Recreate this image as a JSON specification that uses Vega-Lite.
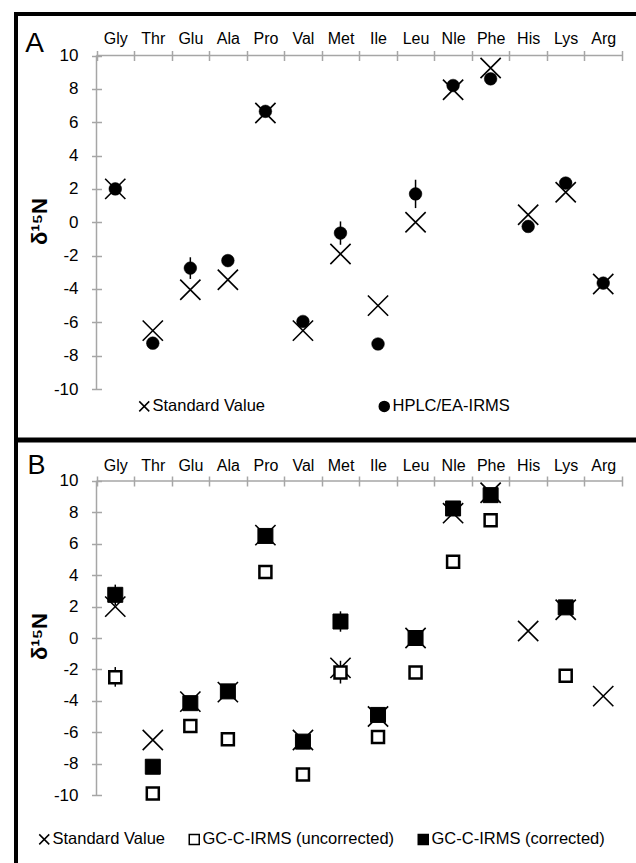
{
  "$schema": "https://vega.github.io/schema/vega-lite/v6.json",
  "width": 636,
  "height": 863,
  "autosize": {"type": "fit", "contains": "padding"},
  "padding": {"left": 13, "top": 14, "right": -10, "bottom": -10},
  "background": "white",
  "config": {
    "font": "Liberation Sans",
    "view": {"stroke": "black", "strokeWidth": 4}
  },
  "datasets": {
    "pts": [
      {"panel": "A", "aa": "Gly", "series": "Standard Value", "value": 2.0},
      {"panel": "A", "aa": "Thr", "series": "Standard Value", "value": -6.5},
      {"panel": "A", "aa": "Glu", "series": "Standard Value", "value": -4.05},
      {"panel": "A", "aa": "Ala", "series": "Standard Value", "value": -3.45},
      {"panel": "A", "aa": "Pro", "series": "Standard Value", "value": 6.55},
      {"panel": "A", "aa": "Val", "series": "Standard Value", "value": -6.5},
      {"panel": "A", "aa": "Met", "series": "Standard Value", "value": -1.9},
      {"panel": "A", "aa": "Ile", "series": "Standard Value", "value": -5.0},
      {"panel": "A", "aa": "Leu", "series": "Standard Value", "value": 0.0},
      {"panel": "A", "aa": "Nle", "series": "Standard Value", "value": 7.95},
      {"panel": "A", "aa": "Phe", "series": "Standard Value", "value": 9.25},
      {"panel": "A", "aa": "His", "series": "Standard Value", "value": 0.45},
      {"panel": "A", "aa": "Lys", "series": "Standard Value", "value": 1.8},
      {"panel": "A", "aa": "Arg", "series": "Standard Value", "value": -3.7},
      {"panel": "A", "aa": "Gly", "series": "HPLC/EA-IRMS", "value": 2.0},
      {"panel": "A", "aa": "Thr", "series": "HPLC/EA-IRMS", "value": -7.25},
      {"panel": "A", "aa": "Glu", "series": "HPLC/EA-IRMS", "value": -2.75, "lo": -3.4, "hi": -2.1},
      {"panel": "A", "aa": "Ala", "series": "HPLC/EA-IRMS", "value": -2.3},
      {"panel": "A", "aa": "Pro", "series": "HPLC/EA-IRMS", "value": 6.65},
      {"panel": "A", "aa": "Val", "series": "HPLC/EA-IRMS", "value": -5.95},
      {"panel": "A", "aa": "Met", "series": "HPLC/EA-IRMS", "value": -0.65, "lo": -1.35, "hi": 0.05},
      {"panel": "A", "aa": "Ile", "series": "HPLC/EA-IRMS", "value": -7.3},
      {"panel": "A", "aa": "Leu", "series": "HPLC/EA-IRMS", "value": 1.7, "lo": 0.85, "hi": 2.55},
      {"panel": "A", "aa": "Nle", "series": "HPLC/EA-IRMS", "value": 8.2},
      {"panel": "A", "aa": "Phe", "series": "HPLC/EA-IRMS", "value": 8.6},
      {"panel": "A", "aa": "His", "series": "HPLC/EA-IRMS", "value": -0.25},
      {"panel": "A", "aa": "Lys", "series": "HPLC/EA-IRMS", "value": 2.35},
      {"panel": "A", "aa": "Arg", "series": "HPLC/EA-IRMS", "value": -3.65},
      {"panel": "B", "aa": "Gly", "series": "Standard Value", "value": 2.0},
      {"panel": "B", "aa": "Thr", "series": "Standard Value", "value": -6.5},
      {"panel": "B", "aa": "Glu", "series": "Standard Value", "value": -4.05},
      {"panel": "B", "aa": "Ala", "series": "Standard Value", "value": -3.45},
      {"panel": "B", "aa": "Pro", "series": "Standard Value", "value": 6.55},
      {"panel": "B", "aa": "Val", "series": "Standard Value", "value": -6.5},
      {"panel": "B", "aa": "Met", "series": "Standard Value", "value": -1.9},
      {"panel": "B", "aa": "Ile", "series": "Standard Value", "value": -5.0},
      {"panel": "B", "aa": "Leu", "series": "Standard Value", "value": 0.0},
      {"panel": "B", "aa": "Nle", "series": "Standard Value", "value": 7.95},
      {"panel": "B", "aa": "Phe", "series": "Standard Value", "value": 9.25},
      {"panel": "B", "aa": "His", "series": "Standard Value", "value": 0.45},
      {"panel": "B", "aa": "Lys", "series": "Standard Value", "value": 1.8},
      {"panel": "B", "aa": "Arg", "series": "Standard Value", "value": -3.7},
      {"panel": "B", "aa": "Gly", "series": "GC-C-IRMS (uncorrected)", "value": -2.5, "lo": -3.1, "hi": -1.85},
      {"panel": "B", "aa": "Thr", "series": "GC-C-IRMS (uncorrected)", "value": -9.9},
      {"panel": "B", "aa": "Glu", "series": "GC-C-IRMS (uncorrected)", "value": -5.6},
      {"panel": "B", "aa": "Ala", "series": "GC-C-IRMS (uncorrected)", "value": -6.45},
      {"panel": "B", "aa": "Pro", "series": "GC-C-IRMS (uncorrected)", "value": 4.2},
      {"panel": "B", "aa": "Val", "series": "GC-C-IRMS (uncorrected)", "value": -8.7},
      {"panel": "B", "aa": "Met", "series": "GC-C-IRMS (uncorrected)", "value": -2.2, "lo": -2.9, "hi": -1.45},
      {"panel": "B", "aa": "Ile", "series": "GC-C-IRMS (uncorrected)", "value": -6.3},
      {"panel": "B", "aa": "Leu", "series": "GC-C-IRMS (uncorrected)", "value": -2.2},
      {"panel": "B", "aa": "Nle", "series": "GC-C-IRMS (uncorrected)", "value": 4.85},
      {"panel": "B", "aa": "Phe", "series": "GC-C-IRMS (uncorrected)", "value": 7.5},
      {"panel": "B", "aa": "Lys", "series": "GC-C-IRMS (uncorrected)", "value": -2.4},
      {"panel": "B", "aa": "Gly", "series": "GC-C-IRMS (corrected)", "value": 2.75, "lo": 2.1, "hi": 3.4},
      {"panel": "B", "aa": "Thr", "series": "GC-C-IRMS (corrected)", "value": -8.2},
      {"panel": "B", "aa": "Glu", "series": "GC-C-IRMS (corrected)", "value": -4.15},
      {"panel": "B", "aa": "Ala", "series": "GC-C-IRMS (corrected)", "value": -3.4},
      {"panel": "B", "aa": "Pro", "series": "GC-C-IRMS (corrected)", "value": 6.5},
      {"panel": "B", "aa": "Val", "series": "GC-C-IRMS (corrected)", "value": -6.6},
      {"panel": "B", "aa": "Met", "series": "GC-C-IRMS (corrected)", "value": 1.05, "lo": 0.4, "hi": 1.7},
      {"panel": "B", "aa": "Ile", "series": "GC-C-IRMS (corrected)", "value": -4.9},
      {"panel": "B", "aa": "Leu", "series": "GC-C-IRMS (corrected)", "value": 0.0},
      {"panel": "B", "aa": "Nle", "series": "GC-C-IRMS (corrected)", "value": 8.25},
      {"panel": "B", "aa": "Phe", "series": "GC-C-IRMS (corrected)", "value": 9.1},
      {"panel": "B", "aa": "Lys", "series": "GC-C-IRMS (corrected)", "value": 1.95}
    ]
  },
  "data": {"name": "pts"},
  "layer": [
    {
      "layer": [
        {
          "data": {"values": [{}]},
          "mark": {"type": "rule", "color": "black", "strokeWidth": 5},
          "encoding": {
            "y": {"datum": -13.058, "scale": {"domain": [-39.025, 12.489], "nice": false, "zero": false}, "axis": {"orient": "left", "offset": -85.5, "values": [-10, -8, -6, -4, -2, 0, 2, 4, 6, 8, 10], "labelExpr": "replace(datum.label, '\u2212', '-')", "tickSize": 10, "tickWidth": 1.5, "tickColor": "#a6a6a6", "domain": false, "grid": false, "labelFontSize": 17, "labelColor": "black", "labelPadding": 13.5, "title": "δ¹⁵N", "titleFontSize": 22, "titleFontWeight": "bold", "titleColor": "black", "titleAngle": 270, "titleAlign": "center", "titleBaseline": "middle", "titleX": -62, "titleY": 207}}
          }
        },
        {
          "data": {"values": [{}]},
          "mark": {"type": "rule", "color": "#a6a6a6", "strokeWidth": 1.5},
          "encoding": {
            "x": {"datum": "Gly", "bandPosition": 0, "type": "nominal", "scale": {"type": "band", "domain": ["Gly", "Thr", "Glu", "Ala", "Pro", "Val", "Met", "Ile", "Leu", "Nle", "Phe", "His", "Lys", "Arg"], "range": [80.5, 606], "paddingInner": 0, "paddingOuter": 0}, "axis": {"orient": "top", "offset": -46.5, "tickBand": "extent", "tickSize": 10, "tickWidth": 1.5, "tickColor": "#a6a6a6", "domain": false, "grid": false, "labelAngle": 0, "labelFontSize": 16, "labelColor": "black", "labelBaseline": "alphabetic", "labelPadding": 7, "title": null}},
            "x2": {"datum": "Arg", "bandPosition": 1},
            "y": {"datum": 10, "scale": {"domain": [-39.025, 12.489], "nice": false, "zero": false}}
          }
        },
        {
          "data": {"values": [{}]},
          "mark": {"type": "rule", "color": "#a6a6a6", "strokeWidth": 1.5},
          "encoding": {
            "x": {"datum": "Gly", "bandPosition": 0, "type": "nominal"},
            "y": {"datum": -10, "scale": {"domain": [-39.025, 12.489], "nice": false, "zero": false}},
            "y2": {"datum": 10}
          }
        },
        {
          "data": {"values": [{}]},
          "mark": {"type": "text", "text": "A", "fontSize": 28, "align": "center", "baseline": "alphabetic", "color": "black"},
          "encoding": {
            "x": {"datum": "Gly", "bandPosition": -1.65, "type": "nominal"},
            "y": {"datum": 10.23, "scale": {"domain": [-39.025, 12.489], "nice": false, "zero": false}}
          }
        },
        {
          "transform": [{"filter": "datum.panel === 'A' && isValid(datum.lo)"}],
          "mark": {"type": "rule", "color": "black", "strokeWidth": 1.5},
          "encoding": {
            "x": {"field": "aa", "type": "nominal"},
            "y": {"field": "lo", "type": "quantitative", "scale": {"domain": [-39.025, 12.489], "nice": false, "zero": false}},
            "y2": {"field": "hi"}
          }
        },
        {
          "transform": [{"filter": "datum.panel === 'A' && datum.series === 'Standard Value'"}],
          "mark": {"type": "point", "size": 410, "stroke": "black", "strokeWidth": 1.6, "opacity": 1},
          "encoding": {
            "x": {"field": "aa", "type": "nominal"},
            "y": {"field": "value", "type": "quantitative", "scale": {"domain": [-39.025, 12.489], "nice": false, "zero": false}},
            "shape": {"field": "series", "type": "nominal", "scale": {"domain": ["Standard Value", "HPLC/EA-IRMS"], "range": ["M-1,-1L1,1M1,-1L-1,1", "circle"]}, "legend": {"title": null, "orient": "none", "legendX": 120, "legendY": 384, "direction": "horizontal", "columns": 2, "columnPadding": 110, "labelFontSize": 16.5, "labelLimit": 400, "labelOffset": 0, "labelColor": "black", "symbolSize": 100, "padding": 0, "encode": {"symbols": {"update": {"stroke": {"value": "black"}, "strokeWidth": {"value": 1.6}}}}}},
            "fill": {"field": "series", "type": "nominal", "scale": {"domain": ["Standard Value", "HPLC/EA-IRMS"], "range": ["transparent", "black"]}, "legend": {"title": null, "orient": "none", "legendX": 120, "legendY": 384, "direction": "horizontal", "columns": 2, "columnPadding": 110, "labelFontSize": 16.5, "labelLimit": 400, "labelOffset": 0, "labelColor": "black", "symbolSize": 100, "padding": 0, "encode": {"symbols": {"update": {"stroke": {"value": "black"}, "strokeWidth": {"value": 1.6}}}}}}
          }
        },
        {
          "transform": [{"filter": "datum.panel === 'A' && datum.series === 'HPLC/EA-IRMS'"}],
          "mark": {"type": "point", "size": 161, "stroke": "black", "strokeWidth": 0.5, "opacity": 1},
          "encoding": {
            "x": {"field": "aa", "type": "nominal"},
            "y": {"field": "value", "type": "quantitative", "scale": {"domain": [-39.025, 12.489], "nice": false, "zero": false}},
            "shape": {"field": "series", "type": "nominal"},
            "fill": {"field": "series", "type": "nominal"}
          }
        }
      ]
    },
    {
      "layer": [
        {
          "data": {"values": [{}]},
          "mark": {"type": "rule", "color": "#a6a6a6", "strokeWidth": 1.5},
          "encoding": {
            "x": {"datum": "Gly", "bandPosition": 0, "type": "nominal", "axis": {"orient": "top", "offset": -472, "tickBand": "extent", "tickSize": 10, "tickWidth": 1.5, "tickColor": "#a6a6a6", "domain": false, "grid": false, "labelAngle": 0, "labelFontSize": 16, "labelColor": "black", "labelBaseline": "alphabetic", "labelPadding": 6, "title": null}},
            "x2": {"datum": "Arg", "bandPosition": 1},
            "y": {"datum": 10, "scale": {"domain": [-14.968, 39.745], "nice": false, "zero": false}, "axis": {"orient": "left", "offset": -85.5, "values": [-10, -8, -6, -4, -2, 0, 2, 4, 6, 8, 10], "labelExpr": "replace(datum.label, '\u2212', '-')", "tickSize": 10, "tickWidth": 1.5, "tickColor": "#a6a6a6", "domain": false, "grid": false, "labelFontSize": 17, "labelColor": "black", "labelPadding": 13.5, "title": "δ¹⁵N", "titleFontSize": 22, "titleFontWeight": "bold", "titleColor": "black", "titleAngle": 270, "titleAlign": "center", "titleBaseline": "middle", "titleX": -62, "titleY": 622}}
          }
        },
        {
          "data": {"values": [{}]},
          "mark": {"type": "rule", "color": "#a6a6a6", "strokeWidth": 1.5},
          "encoding": {
            "x": {"datum": "Gly", "bandPosition": 0, "type": "nominal"},
            "y": {"datum": -10, "scale": {"domain": [-14.968, 39.745], "nice": false, "zero": false}},
            "y2": {"datum": 10}
          }
        },
        {
          "data": {"values": [{}]},
          "mark": {"type": "text", "text": "B", "fontSize": 27, "align": "center", "baseline": "alphabetic", "color": "black"},
          "encoding": {
            "x": {"datum": "Gly", "bandPosition": -1.6, "type": "nominal"},
            "y": {"datum": 10.446, "scale": {"domain": [-14.968, 39.745], "nice": false, "zero": false}}
          }
        },
        {
          "transform": [{"filter": "datum.panel === 'B' && isValid(datum.lo)"}],
          "mark": {"type": "rule", "color": "black", "strokeWidth": 1.5},
          "encoding": {
            "x": {"field": "aa", "type": "nominal"},
            "y": {"field": "lo", "type": "quantitative", "scale": {"domain": [-14.968, 39.745], "nice": false, "zero": false}},
            "y2": {"field": "hi"}
          }
        },
        {
          "transform": [{"filter": "datum.panel === 'B' && datum.series === 'Standard Value'"}],
          "mark": {"type": "point", "size": 410, "stroke": "black", "strokeWidth": 1.6, "opacity": 1},
          "encoding": {
            "x": {"field": "aa", "type": "nominal"},
            "y": {"field": "value", "type": "quantitative", "scale": {"domain": [-14.968, 39.745], "nice": false, "zero": false}},
            "shape": {"field": "series", "type": "nominal", "scale": {"domain": ["Standard Value", "GC-C-IRMS (uncorrected)", "GC-C-IRMS (corrected)"], "range": ["M-1,-1L1,1M1,-1L-1,1", "square", "square"]}, "legend": {"title": null, "orient": "none", "legendX": 20, "legendY": 817, "direction": "horizontal", "columns": 3, "columnPadding": 20, "labelFontSize": 16.5, "labelLimit": 400, "labelOffset": 0, "labelColor": "black", "symbolSize": 100, "padding": 0, "encode": {"symbols": {"update": {"stroke": {"value": "black"}, "strokeWidth": {"value": 2}}}}}},
            "fill": {"field": "series", "type": "nominal", "scale": {"domain": ["Standard Value", "GC-C-IRMS (uncorrected)", "GC-C-IRMS (corrected)"], "range": ["transparent", "white", "black"]}, "legend": {"title": null, "orient": "none", "legendX": 20, "legendY": 817, "direction": "horizontal", "columns": 3, "columnPadding": 20, "labelFontSize": 16.5, "labelLimit": 400, "labelOffset": 0, "labelColor": "black", "symbolSize": 100, "padding": 0, "encode": {"symbols": {"update": {"stroke": {"value": "black"}, "strokeWidth": {"value": 2}}}}}}
          }
        },
        {
          "transform": [{"filter": "datum.panel === 'B' && datum.series === 'GC-C-IRMS (uncorrected)'"}],
          "mark": {"type": "point", "size": 144, "stroke": "black", "strokeWidth": 2.5, "opacity": 1},
          "encoding": {
            "x": {"field": "aa", "type": "nominal"},
            "y": {"field": "value", "type": "quantitative", "scale": {"domain": [-14.968, 39.745], "nice": false, "zero": false}},
            "shape": {"field": "series", "type": "nominal"},
            "fill": {"field": "series", "type": "nominal"}
          }
        },
        {
          "transform": [{"filter": "datum.panel === 'B' && datum.series === 'GC-C-IRMS (corrected)'"}],
          "mark": {"type": "point", "size": 225, "stroke": "black", "strokeWidth": 1, "opacity": 1},
          "encoding": {
            "x": {"field": "aa", "type": "nominal"},
            "y": {"field": "value", "type": "quantitative", "scale": {"domain": [-14.968, 39.745], "nice": false, "zero": false}},
            "shape": {"field": "series", "type": "nominal"},
            "fill": {"field": "series", "type": "nominal"}
          }
        }
      ]
    }
  ],
  "resolve": {
    "scale": {"y": "independent", "shape": "independent", "fill": "independent"},
    "axis": {"x": "independent", "y": "independent"},
    "legend": {"shape": "independent", "fill": "independent"}
  }
}
